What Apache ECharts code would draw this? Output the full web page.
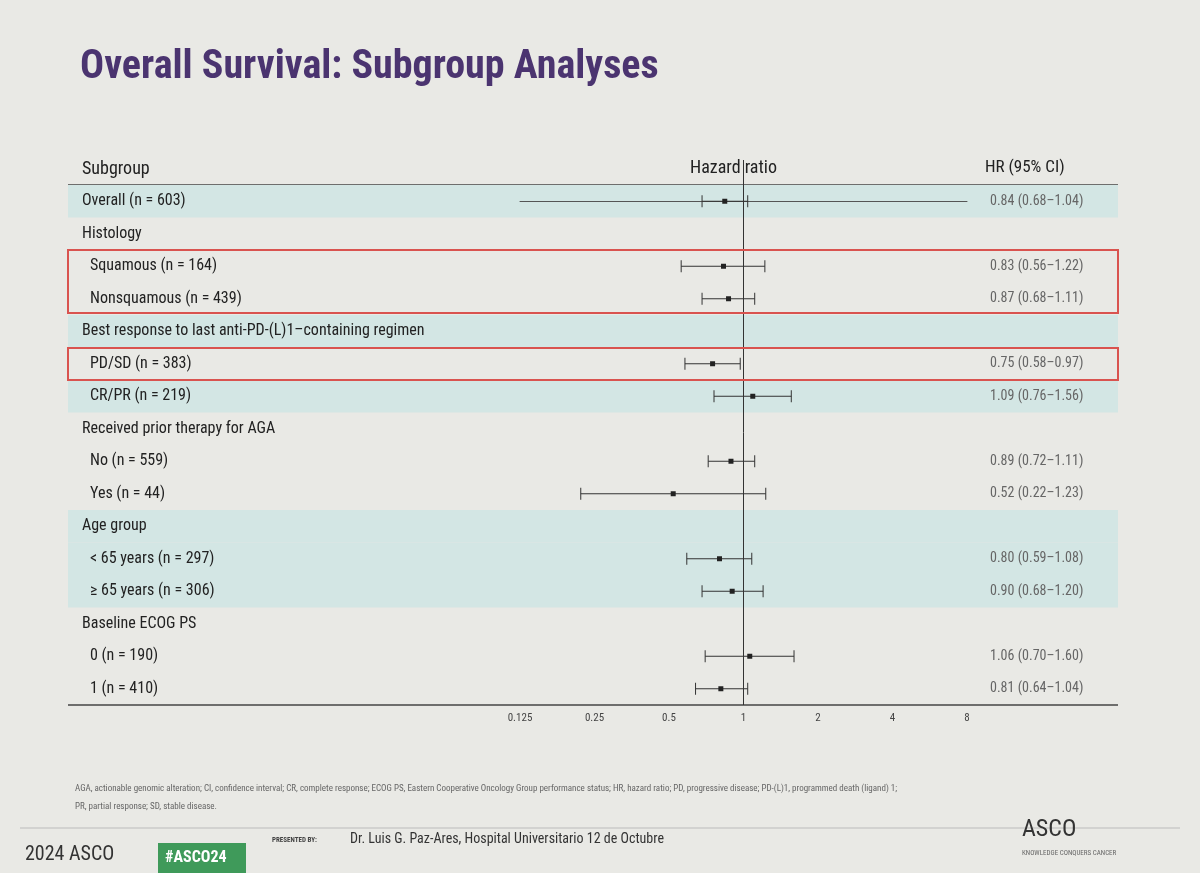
<!DOCTYPE html>
<html><head><meta charset="utf-8">
<script src="https://cdn.jsdelivr.net/npm/echarts@6/dist/echarts.min.js"></script>
<style>html,body{margin:0;background:#e9e9e5}#c{width:1200px;height:873px}</style>
</head><body><div id="c"></div>
<script>
const labels=["Overall (n = 603)","Histology","Squamous (n = 164)","Nonsquamous (n = 439)","Best response to last anti-PD-(L)1–containing regimen","PD/SD (n = 383)","CR/PR (n = 219)","Received prior therapy for AGA","No (n = 559)","Yes (n = 44)","Age group","< 65 years (n = 297)","≥ 65 years (n = 306)","Baseline ECOG PS","0 (n = 190)","1 (n = 410)"];
const isHeader=[false,true,false,false,true,false,false,true,false,false,true,false,false,true,false,false];
const hr=[0.84,null,0.83,0.87,null,0.75,1.09,null,0.89,0.52,null,0.80,0.90,null,1.06,0.81];
const lo=[0.68,null,0.56,0.68,null,0.58,0.76,null,0.72,0.22,null,0.59,0.68,null,0.70,0.64];
const hi=[1.04,null,1.22,1.11,null,0.97,1.56,null,1.11,1.23,null,1.08,1.20,null,1.60,1.04];
const hrText=["0.84 (0.68–1.04)","","0.83 (0.56–1.22)","0.87 (0.68–1.11)","","0.75 (0.58–0.97)","1.09 (0.76–1.56)","","0.89 (0.72–1.11)","0.52 (0.22–1.23)","","0.80 (0.59–1.08)","0.90 (0.68–1.20)","","1.06 (0.70–1.60)","0.81 (0.64–1.04)"];
const shaded=[0,4,6,10,11,12];
const ticks=[0.125,0.25,0.5,1,2,4,8];
const FONT='"Liberation Sans Narrow","Roboto Condensed",Roboto,sans-serif';
const ch=echarts.init(document.getElementById('c'));
const rows=labels.map((l,i)=>[i]);
const ciData=hr.map((h,i)=>h==null?null:[lo[i],hi[i],h,i]).filter(d=>d);
ch.setOption({
 backgroundColor:'#e9e9e5',
 grid:{left:520,right:233,top:185,bottom:168},
 xAxis:{type:'log',logBase:2,min:0.125,max:8,axisLine:{show:true,lineStyle:{color:'#555'}},axisTick:{show:false},splitLine:{show:false},
   axisLabel:{color:'#444',fontSize:11,fontFamily:FONT,margin:8,formatter:v=>String(+v.toPrecision(3))}},
 yAxis:{type:'value',min:-0.5,max:15.5,inverse:true,show:false},
 graphic:[
  {type:'text',left:80,top:48,style:{text:'Overall Survival: Subgroup Analyses',font:'bold 40px '+FONT,fill:'#4b3470'}},
  {type:'text',left:82,top:160,style:{text:'Subgroup',font:'18px '+FONT,fill:'#222'}},
  {type:'text',left:690,top:159,style:{text:'Hazard ratio',font:'18px '+FONT,fill:'#222'}},
  {type:'text',left:985,top:159,style:{text:'HR (95% CI)',font:'17px '+FONT,fill:'#222'}},
  {type:'line',shape:{x1:68,y1:185,x2:1118,y2:185},style:{stroke:'#444',lineWidth:1.5}},
  {type:'line',shape:{x1:68,y1:705,x2:1118,y2:705},style:{stroke:'#444',lineWidth:1.5}},
  {type:'rect',shape:{x:68,y:250,width:1050,height:63},style:{fill:'none',stroke:'#d9534f',lineWidth:2},z:10},
  {type:'rect',shape:{x:68,y:348,width:1050,height:32},style:{fill:'none',stroke:'#d9534f',lineWidth:2},z:10},
  {type:'text',left:75,top:780,style:{text:'AGA, actionable genomic alteration; CI, confidence interval; CR, complete response; ECOG PS, Eastern Cooperative Oncology Group performance status; HR, hazard ratio; PD, progressive disease; PD-(L)1, programmed death (ligand) 1;\nPR, partial response; SD, stable disease.',font:'9px '+FONT,fill:'#666',lineHeight:18}},
  {type:'line',shape:{x1:20,y1:828,x2:1180,y2:828},style:{stroke:'#bbb',lineWidth:1}},
  {type:'text',left:25,top:845,style:{text:'2024 ASCO',font:'20px '+FONT,fill:'#333'}},
  {type:'rect',shape:{x:158,y:843,width:88,height:30},style:{fill:'#3f9a5a'}},
  {type:'text',left:165,top:850,style:{text:'#ASCO24',font:'bold 16px '+FONT,fill:'#fff'}},
  {type:'text',left:272,top:837,style:{text:'PRESENTED BY:',font:'bold 7px '+FONT,fill:'#444'}},
  {type:'text',left:350,top:832,style:{text:'Dr. Luis G. Paz-Ares, Hospital Universitario 12 de Octubre',font:'14px '+FONT,fill:'#333'}},
  {type:'text',left:1022,top:818,style:{text:'ASCO',font:'24px '+FONT,fill:'#333'}},
  {type:'text',left:1022,top:850,style:{text:'KNOWLEDGE CONQUERS CANCER',font:'7px '+FONT,fill:'#666'}}
 ],
 series:[
  {type:'custom',z:0,data:shaded.map(i=>[i]),renderItem:(p,api)=>{const y=api.coord([1,api.value(0)])[1];const h=api.size([0,1])[1];
    return {type:'rect',shape:{x:68,y:y-h/2,width:1050,height:h},style:{fill:'#d3e6e4'}};}},
  {type:'custom',z:2,data:rows,renderItem:(p,api)=>{const i=api.value(0);const y=api.coord([1,i])[1];
    return {type:'group',children:[
     {type:'text',x:isHeader[i]||i===0?82:90,y:y,style:{text:labels[i],font:'16px '+FONT,fill:'#222',verticalAlign:'middle'}},
     {type:'text',x:990,y:y,style:{text:hrText[i],font:'14px '+FONT,fill:'#666',verticalAlign:'middle'}}]};}},
  {type:'custom',z:3,data:[[1]],clip:false,renderItem:(p,api)=>{const a=api.coord([api.value(0),15.5]);
    return {type:'line',shape:{x1:a[0],y1:160,x2:a[0],y2:a[1]},style:{stroke:'#333',lineWidth:1}};}},
  {type:'custom',z:4,data:ciData,renderItem:(p,api)=>{const a=api.coord([api.value(0),api.value(3)]),b=api.coord([api.value(1),api.value(3)]),c=api.coord([api.value(2),api.value(3)]);
    const s={stroke:'#333',lineWidth:1};
    return {type:'group',children:[
     {type:'line',shape:{x1:a[0],y1:a[1],x2:b[0],y2:b[1]},style:s},
     {type:'line',shape:{x1:a[0],y1:a[1]-6,x2:a[0],y2:a[1]+6},style:s},
     {type:'line',shape:{x1:b[0],y1:b[1]-6,x2:b[0],y2:b[1]+6},style:s},
     {type:'rect',shape:{x:c[0]-2.5,y:c[1]-2.5,width:5,height:5},style:{fill:'#222'}}]};}}
 ]
});
</script></body></html>
